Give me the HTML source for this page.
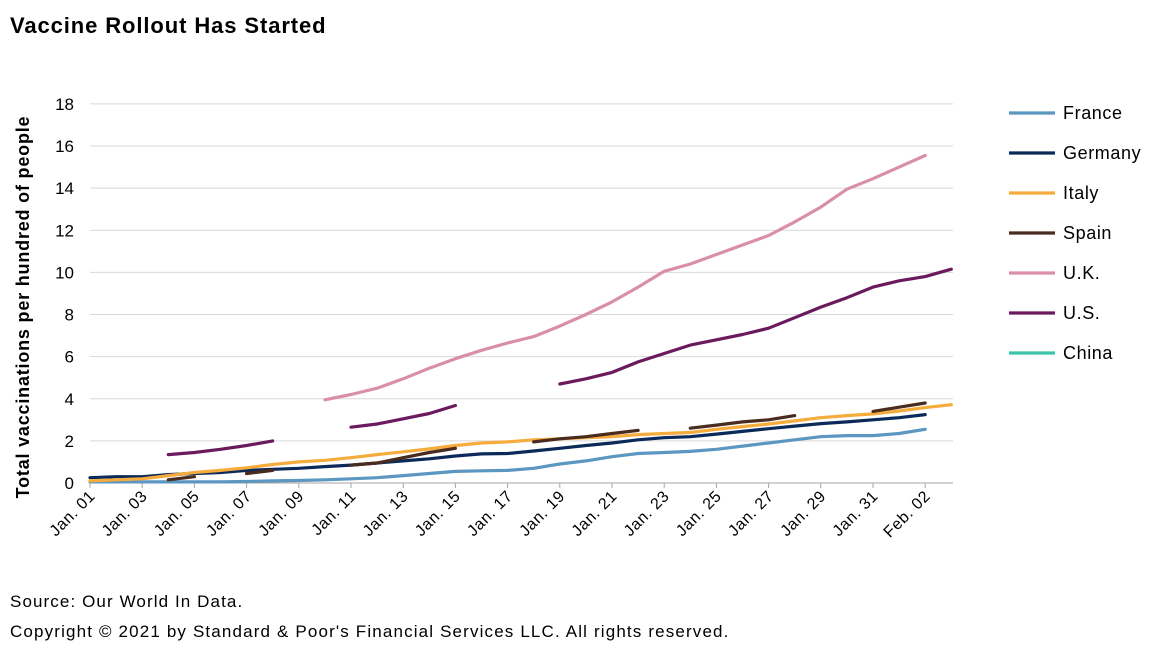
<!DOCTYPE html>
<html><head><meta charset="utf-8"><style>
body{margin:0;background:#fff;font-family:"Liberation Sans",Arial,sans-serif;}
svg text{font-family:"Liberation Sans",Arial,sans-serif;}
</style></head><body>
<svg width="1154" height="662">
<text x="10" y="33" font-size="22" font-weight="bold" letter-spacing="0.9">Vaccine Rollout Has Started</text>
<g id="grid"></g><g id="xaxis"></g><g id="series"></g><g id="legend"></g>
<text transform="translate(29,307) rotate(-90)" text-anchor="middle" font-size="18" font-weight="bold" letter-spacing="0.8">Total vaccinations per hundred of people</text>
<text x="10" y="607" font-size="17" letter-spacing="1.1">Source: Our World In Data.</text>
<text x="10" y="637" font-size="17" letter-spacing="1.15">Copyright © 2021 by Standard &amp; Poor's Financial Services LLC. All rights reserved.</text>
</svg>
<script>
const N=null;
const yTicks=[0,2,4,6,8,10,12,14,16,18];
const xLabels=["Jan. 01","Jan. 03","Jan. 05","Jan. 07","Jan. 09","Jan. 11","Jan. 13","Jan. 15","Jan. 17","Jan. 19","Jan. 21","Jan. 23","Jan. 25","Jan. 27","Jan. 29","Jan. 31","Feb. 02"];
const names=["France","Germany","Italy","Spain","U.K.","U.S.","China"];
const colors=["#5b97c0","#0b2a5a","#f5ac3c","#4a2b1f","#d98fa8","#6b1a5e","#3cc4a8"];
const france=[0.05,0.05,0.05,0.05,0.05,0.05,0.07,0.1,0.12,0.15,0.2,0.25,0.35,0.45,0.55,0.58,0.6,0.7,0.9,1.05,1.25,1.4,1.45,1.5,1.6,1.75,1.9,2.05,2.2,2.25,2.25,2.35,2.55,N];
const germany=[0.25,0.3,0.3,0.4,0.45,0.5,0.6,0.65,0.7,0.78,0.85,0.95,1.05,1.15,1.28,1.38,1.4,1.52,1.65,1.78,1.9,2.05,2.15,2.2,2.32,2.45,2.58,2.7,2.82,2.9,3.0,3.1,3.25,N];
const italy=[0.1,0.15,0.2,0.35,0.5,0.6,0.72,0.88,1.0,1.08,1.2,1.35,1.48,1.62,1.78,1.9,1.95,2.05,2.1,2.15,2.2,2.3,2.35,2.4,2.55,2.68,2.8,2.95,3.1,3.2,3.28,3.42,3.58,3.72];
const spain=[N,N,N,0.15,0.3,N,0.45,0.6,N,N,0.85,0.95,1.2,1.45,1.65,N,N,1.95,2.1,2.2,2.35,2.5,N,2.6,2.75,2.9,3.0,3.2,N,N,3.4,3.6,3.8,N];
const uk=[N,N,N,N,N,N,N,N,N,3.95,4.2,4.5,4.95,5.45,5.9,6.3,6.65,6.95,7.45,8.0,8.6,9.3,10.05,10.4,10.85,11.3,11.75,12.4,13.1,13.95,14.45,15.0,15.55,N];
const us=[N,N,N,1.35,1.45,1.6,1.78,2.0,N,N,2.65,2.8,3.05,3.3,3.68,N,N,N,4.7,4.95,5.25,5.75,6.15,6.55,6.8,7.05,7.35,7.85,8.35,8.8,9.3,9.6,9.8,10.15];
const china=[];
const series=[france,germany,italy,spain,uk,us,china];
const NS="http://www.w3.org/2000/svg";
const X=d=>90+d*26.1, Y=v=>483-v*21.06;
function mk(t,a,p){const e=document.createElementNS(NS,t);for(const k in a)e.setAttribute(k,a[k]);p.appendChild(e);return e;}
const grid=document.getElementById('grid');
yTicks.forEach(v=>{
 if(v>0){const l=mk('line',{x1:90,x2:953,y1:Y(v),y2:Y(v),stroke:'#d9d9d9','stroke-width':1},grid);
 
 }
 const t=mk('text',{x:74,y:Y(v)+6,'text-anchor':'end','font-size':17},grid);t.textContent=v;
 
 
});
const xa=document.getElementById('xaxis');
mk('line',{x1:90,x2:953,y1:483,y2:483,stroke:'#a6a6a6'},xa);
xLabels.forEach((s,i)=>{
 const x=X(i*2);
 mk('line',{x1:x,x2:x,y1:483,y2:488,stroke:'#a6a6a6'},xa);
 const t=mk('text',{transform:`translate(${x+6},${497}) rotate(-45)`,'text-anchor':'end','font-size':16,'letter-spacing':0.6},xa);t.textContent=s;
 
 
});
const sg=document.getElementById('series');
series.forEach((arr,si)=>{
 let d='',pen=false;
 arr.forEach((v,i)=>{if(v===N){pen=false;return;}d+=(pen?'L':'M')+X(i).toFixed(1)+' '+Y(v).toFixed(1)+' ';pen=true;});
 if(!d)return;
 const p=mk('path',{d:d,fill:'none',stroke:colors[si],'stroke-width':3.2,'stroke-linecap':'round','stroke-linejoin':'round'},sg);
 
 
});
const lg=document.getElementById('legend');
names.forEach((n,i)=>{
 const y=113+i*40;
 const g=mk('g',{},lg);
 
 
 mk('line',{x1:1009,x2:1055,y1:y,y2:y,stroke:colors[i],'stroke-width':3.2},g);
 const t=mk('text',{x:1063,y:y+6,'font-size':18,'letter-spacing':0.6},g);t.textContent=n;
});
</script>
</body></html>
